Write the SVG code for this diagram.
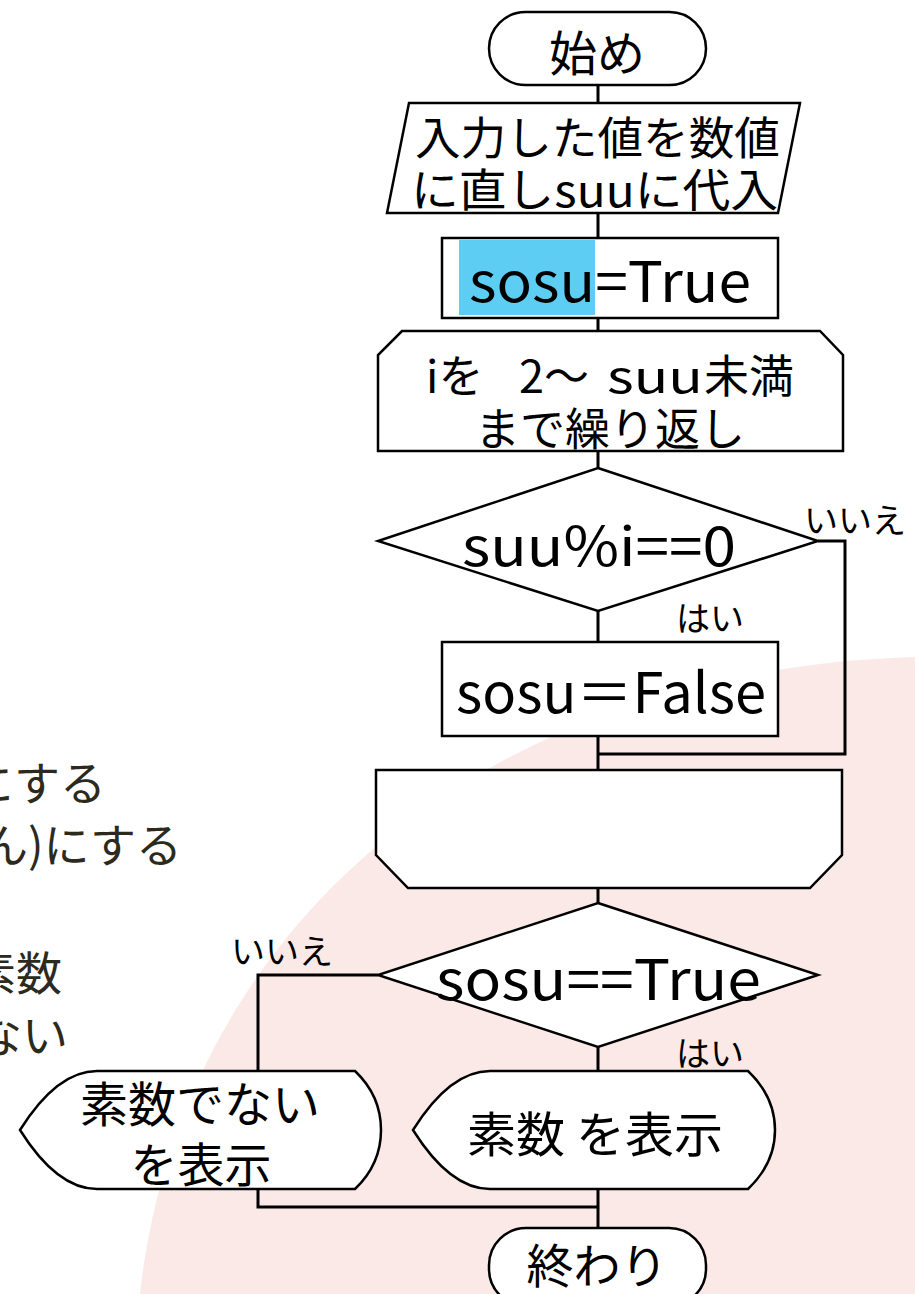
<svg xmlns="http://www.w3.org/2000/svg" width="915" height="1294" viewBox="0 0 915 1294">
<style>
.s{fill:#fff;stroke:#000;stroke-width:2.5}
.t{font-family:"Noto Sans CJK JP","Noto Sans",sans-serif;fill:#000;text-anchor:middle}
.ts{font-family:"Noto Sans CJK JP","Noto Sans",sans-serif;fill:#000}
.lb{font-family:"Noto Sans CJK JP","Noto Sans",sans-serif;fill:#000;font-size:34px}
.bg{font-family:"Noto Sans CJK JP","Noto Sans",sans-serif;fill:#2b2a1c;font-size:46px;text-anchor:end;stroke:#fff;stroke-width:6;stroke-opacity:0.85;paint-order:stroke;stroke-linejoin:round}
.c{fill:none;stroke:#000;stroke-width:3}
</style>
<rect width="915" height="1294" fill="#fff"/>
<path d="M140,1294 C180,930 480,670 915,657 L915,1294 Z" fill="#fbe9e7"/>
<g id="bgtext">
<text class="bg" x="106" y="800">にする</text>
<text class="bg" x="182" y="862">ん)にする</text>
<text class="bg" x="62" y="990">素数</text>
<text class="bg" x="68" y="1052">ない</text>
</g>
<g id="connectors">
<path class="c" d="M598,85 V103 M598,213 V238 M598,318 V331 M598,451 V468 M598,611 V642 M598,736 V770 M818,541 H845 V754 H598 M598,888 V903 M598,1047 V1071 M378,975 H258 V1071 M258,1189 V1207 H598 M598,1189 V1228"/>
</g>
<g id="start">
<rect class="s" x="489" y="12" width="217" height="73" rx="36.5"/>
<text class="t" x="597" y="71" font-size="48">始め</text>
</g>
<g id="input">
<polygon class="s" points="409,103 800,103 778,213 387,213"/>
<text class="ts" x="415" y="155" font-size="45" textLength="365" lengthAdjust="spacingAndGlyphs">入力した値を数値</text>
<text class="ts" x="411" y="207" font-size="45" textLength="367" lengthAdjust="spacingAndGlyphs">に直しsuuに代入</text>
</g>
<g id="init">
<rect class="s" x="442" y="238" width="336" height="80"/>
<rect x="459" y="240" width="136" height="75" fill="#5ecdf3"/>
<text class="ts" x="469" y="302" font-size="56" textLength="282" lengthAdjust="spacingAndGlyphs">sosu=True</text>
</g>
<g id="loopstart">
<polygon class="s" points="402,331 820,331 843,355 843,451 378,451 378,355"/>
<text class="ts" y="393" font-size="45"><tspan x="426">iを</tspan><tspan x="519">2～</tspan><tspan x="607" textLength="96" lengthAdjust="spacingAndGlyphs">suu</tspan><tspan x="704">未満</tspan></text>
<text class="t" x="610" y="446" font-size="45">まで繰り返し</text>
</g>
<g id="cond1">
<polygon class="s" points="598,468 818,541 598,611 378,541"/>
<text class="ts" x="462" y="566" font-size="54" textLength="274" lengthAdjust="spacingAndGlyphs">suu%i==0</text>
<text class="lb" x="804" y="533">いいえ</text>
<text class="lb" x="676" y="631">はい</text>
</g>
<g id="setfalse">
<rect class="s" x="442" y="642" width="336" height="94"/>
<text class="ts" x="456" y="713" font-size="56" textLength="310" lengthAdjust="spacingAndGlyphs">sosu＝False</text>
</g>
<g id="loopend">
<polygon class="s" points="376,770 842,770 842,855 810,888 408,888 376,855"/>
</g>
<g id="cond2">
<polygon class="s" points="598,903 818,975 598,1047 378,975"/>
<text class="ts" x="436" y="1000" font-size="56" textLength="325" lengthAdjust="spacingAndGlyphs">sosu==True</text>
<text class="lb" x="231" y="964">いいえ</text>
<text class="lb" x="676" y="1066">はい</text>
</g>
<g id="showprime">
<path class="s" d="M413,1130 C435,1095 460,1071 490,1071 L748,1071 C768,1090 775,1110 775,1130 C775,1150 768,1170 748,1189 L490,1189 C460,1189 435,1165 413,1130 Z"/>
<text class="ts" x="467" y="1152" font-size="48" textLength="256" lengthAdjust="spacingAndGlyphs">素数 を表示</text>
</g>
<g id="shownotprime">
<path class="s" d="M20,1130 C42,1095 67,1071 97,1071 L355,1071 C375,1090 381,1110 381,1130 C381,1150 375,1170 355,1189 L97,1189 C67,1189 42,1165 20,1130 Z"/>
<text class="t" x="200" y="1122" font-size="48">素数でない</text>
<text class="t" x="201" y="1182" font-size="47">を表示</text>
</g>
<g id="end">
<rect class="s" x="489" y="1228" width="217" height="78" rx="37"/>
<text class="t" x="597" y="1283" font-size="47">終わり</text>
</g>
</svg>
